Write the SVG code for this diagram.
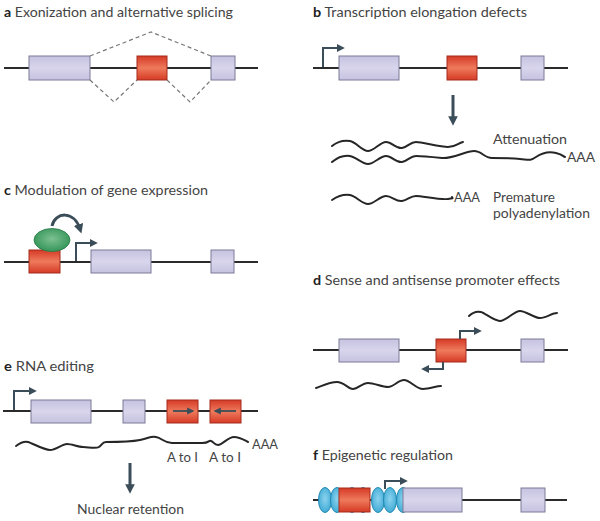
<svg xmlns="http://www.w3.org/2000/svg" width="600" height="521" viewBox="0 0 600 521">
<defs>
<linearGradient id="gl" x1="0" y1="0" x2="0" y2="1"><stop offset="0" stop-color="#c6c2e0"/><stop offset="0.5" stop-color="#d8d5ec"/><stop offset="1" stop-color="#c6c2e0"/></linearGradient>
<linearGradient id="gr" x1="0" y1="0" x2="0" y2="1"><stop offset="0" stop-color="#d63a26"/><stop offset="0.5" stop-color="#ee7a5c"/><stop offset="1" stop-color="#d63a26"/></linearGradient>
<radialGradient id="gb" cx="0.5" cy="0.45" r="0.6"><stop offset="0" stop-color="#8cd2ee"/><stop offset="1" stop-color="#3aa8d4"/></radialGradient>
<radialGradient id="gg" cx="0.5" cy="0.45" r="0.6"><stop offset="0" stop-color="#7dc192"/><stop offset="1" stop-color="#2f9254"/></radialGradient>
<marker id="ah" viewBox="0 0 10 10" refX="5" refY="5" markerWidth="3.2" markerHeight="3.2" orient="auto"><path d="M0,0 L10,5 L0,10 Z" fill="#3b4d59"/></marker>
<marker id="ahs" viewBox="0 0 10 10" refX="4" refY="5" markerWidth="4" markerHeight="4" orient="auto"><path d="M0,0 L10,5 L0,10 Z" fill="#3b4d59"/></marker>
</defs>
<style>
.t{font-family:Lato,"Open Sans","Liberation Sans",sans-serif;font-size:13.5px;fill:#444}
.l{font-weight:bold;fill:#222}
.dna{stroke:#2b2b2b;stroke-width:2;fill:none}
.ex{fill:url(#gl);stroke:#7d7a98;stroke-width:1}
.rd{fill:url(#gr);stroke:#a32d1c;stroke-width:1}
.nuc{fill:url(#gb);stroke:#2388b2;stroke-width:1}
.pr{stroke:#3b4d59;stroke-width:2;fill:none;marker-end:url(#ahs)}
.big{stroke:#3b4d59;stroke-width:3;fill:none;marker-end:url(#ah)}
.rna{stroke:#262626;stroke-width:2;fill:none;stroke-linecap:round}
.dash{stroke:#777;stroke-width:1.2;fill:none;stroke-dasharray:4,3}
</style>

<!-- Panel a -->
<g id="panel-a">
<text class="t" x="4" y="17" textLength="229" lengthAdjust="spacingAndGlyphs"><tspan class="l">a</tspan> Exonization and alternative splicing</text>
<line class="dna" x1="4" y1="68" x2="258" y2="68"/>
<rect id="a-exon1" class="ex" x="29" y="56" width="61" height="24"/>
<rect id="a-exon2" class="rd" x="137" y="56" width="30" height="24"/>
<rect id="a-exon3" class="ex" x="211" y="56" width="24" height="24"/>
</g>

<!-- Panel b -->
<g id="panel-b">
<text class="t" x="313" y="17" textLength="214" lengthAdjust="spacingAndGlyphs"><tspan class="l">b</tspan> Transcription elongation defects</text>
<line class="dna" x1="313" y1="68" x2="568" y2="68"/>
<rect id="b-exon1" class="ex" x="339" y="56" width="60" height="24"/>
<rect id="b-exon2" class="rd" x="447" y="56" width="30" height="24"/>
<rect id="b-exon3" class="ex" x="521" y="56" width="23" height="24"/>
<text class="t" x="493" y="144" textLength="74" lengthAdjust="spacingAndGlyphs">Attenuation</text>
<text class="t" x="567" y="162" textLength="28" lengthAdjust="spacingAndGlyphs">AAA</text>
<text class="t" x="454" y="202" textLength="26" lengthAdjust="spacingAndGlyphs">AAA</text>
<text class="t" x="493" y="202" textLength="62" lengthAdjust="spacingAndGlyphs">Premature</text>
<text class="t" x="493" y="218" textLength="97" lengthAdjust="spacingAndGlyphs">polyadenylation</text>
</g>

<!-- Panel c -->
<g id="panel-c">
<text class="t" x="4" y="195" textLength="204" lengthAdjust="spacingAndGlyphs"><tspan class="l">c</tspan> Modulation of gene expression</text>
<line class="dna" x1="4" y1="262" x2="258" y2="262"/>
<rect id="c-red" class="rd" x="29" y="250" width="31" height="23"/>
<ellipse id="c-factor" cx="52" cy="240" rx="18" ry="11.5" fill="url(#gg)" stroke="#2a7a45" stroke-width="0.8"/>
<rect id="c-exon1" class="ex" x="91" y="250" width="60" height="23"/>
<rect id="c-exon2" class="ex" x="211" y="250" width="23" height="23"/>
</g>

<!-- Panel d -->
<g id="panel-d">
<text class="t" x="313" y="285" textLength="247" lengthAdjust="spacingAndGlyphs"><tspan class="l">d</tspan> Sense and antisense promoter effects</text>
<line class="dna" x1="313" y1="350" x2="568" y2="350"/>
<rect id="d-exon1" class="ex" x="339" y="339" width="60" height="23"/>
<rect id="d-red" class="rd" x="436" y="339" width="30" height="23"/>
<rect id="d-exon2" class="ex" x="521" y="339" width="23" height="23"/>
</g>

<!-- Panel e -->
<g id="panel-e">
<text class="t" x="4" y="371" textLength="90" lengthAdjust="spacingAndGlyphs"><tspan class="l">e</tspan> RNA editing</text>
<line class="dna" x1="3" y1="411" x2="258" y2="411"/>
<rect id="e-exon1" class="ex" x="31" y="400" width="60" height="23"/>
<rect id="e-exon2" class="ex" x="123" y="400" width="22" height="23"/>
<rect id="e-red1" class="rd" x="167" y="400" width="31" height="23"/>
<rect id="e-red2" class="rd" x="210" y="400" width="31" height="23"/>
<text class="t" x="252" y="449" textLength="26" lengthAdjust="spacingAndGlyphs">AAA</text>
<text class="t" x="167" y="462" textLength="31" lengthAdjust="spacingAndGlyphs">A to I</text>
<text class="t" x="209" y="462" textLength="32" lengthAdjust="spacingAndGlyphs">A to I</text>
<text class="t" x="77" y="514" textLength="107" lengthAdjust="spacingAndGlyphs">Nuclear retention</text>
</g>

<!-- Panel f -->
<g id="panel-f">
<text class="t" x="313" y="460" textLength="140" lengthAdjust="spacingAndGlyphs"><tspan class="l">f</tspan> Epigenetic regulation</text>
<line class="dna" x1="313" y1="500" x2="567" y2="500"/>
<ellipse class="nuc" cx="352" cy="500" rx="6.5" ry="12.5"/>
<ellipse class="nuc" cx="363" cy="500" rx="6.5" ry="12.5"/>
<ellipse class="nuc" cx="325" cy="500" rx="6.5" ry="12.5"/>
<ellipse class="nuc" cx="337" cy="500" rx="6.5" ry="12.5"/>
<rect id="f-red" class="rd" x="339" y="488" width="31" height="24"/>
<ellipse class="nuc" cx="378" cy="500" rx="6.5" ry="12.5"/>
<ellipse class="nuc" cx="390" cy="500" rx="6.5" ry="12.5"/>
<ellipse class="nuc" cx="403" cy="500" rx="6.5" ry="12.5"/>
<rect id="f-exon1" class="ex" x="403" y="488" width="59" height="24"/>
<rect id="f-exon2" class="ex" x="521" y="488" width="24" height="24"/>
</g>

<!-- Connectors -->
<g id="connectors">
<polyline class="dash" points="90,56 151,32 211,56"/>
<polyline class="dash" points="90,80 114,102 137,80"/>
<polyline class="dash" points="167,80 190,102 211,80"/>
<path class="pr" d="M323,67 V48 H340"/>
<line class="big" x1="453" y1="95" x2="453" y2="121"/>
<path class="rna" d="M332,146 C338,141 344,140 350,141 S362,151 368,151 S380,142 386,142 S396,149 402,148 S410,142 416,142 S440,147 448,147 S458,143 463,142"/>
<path class="rna" d="M332,162 C338,157 344,155 350,156 S362,164 368,164 S380,156 386,156 S396,163 402,162 S410,156 416,156 S432,157 442,158 S466,151 474,151 S484,158 492,158 S510,158 520,159 S530,161 536,157 S548,151 556,153 S562,156 565,157"/>
<path class="rna" d="M332,200 C338,196 344,194 350,195 S362,204 368,204 S380,196 386,196 S396,202 402,201 S410,196 416,196 S440,200 448,199 S451,198 452,197"/>
<path class="pr" d="M76,261 V243 H93"/>
<path d="M52,226 C55,212 74,210 80,229" stroke="#3b4d59" stroke-width="3" fill="none" marker-end="url(#ah)"/>
<path class="pr" d="M460,339 V331 H477"/>
<path class="pr" d="M443,362 V369 H426"/>
<path class="rna" d="M469,316 C473,312 477,311 481,312 S494,321 500,321 S514,311 520,311 S534,318 540,318 S552,313 557,313"/>
<path class="rna" d="M316,388 C324,385 330,382 337,382 S348,389 353,389 S362,383 368,383 S382,387 388,387 S398,380 404,380 S416,389 423,389 S436,386 441,386"/>
<path class="pr" d="M14,410 V391 H32"/>
<path d="M173,411 H190" stroke="#3b4d59" stroke-width="1.8" marker-end="url(#ahs)"/>
<path d="M236,411 H218" stroke="#3b4d59" stroke-width="1.8" marker-end="url(#ahs)"/>
<path class="rna" d="M16,446 C20,443 24,441 28,442 S44,450 50,450 S62,444 67,444 S78,447 83,447 S96,449 99,447 S102,442 106,442 S130,442 140,440 S150,436 156,437 S164,443 172,443 S194,443 202,443 S208,440 211,441 S214,445 218,445 S228,437 234,437 S244,440 248,442"/>
<line class="big" x1="130" y1="463" x2="130" y2="489"/>
<path class="pr" d="M385,489 V481 H403"/>
</g>
</svg>
